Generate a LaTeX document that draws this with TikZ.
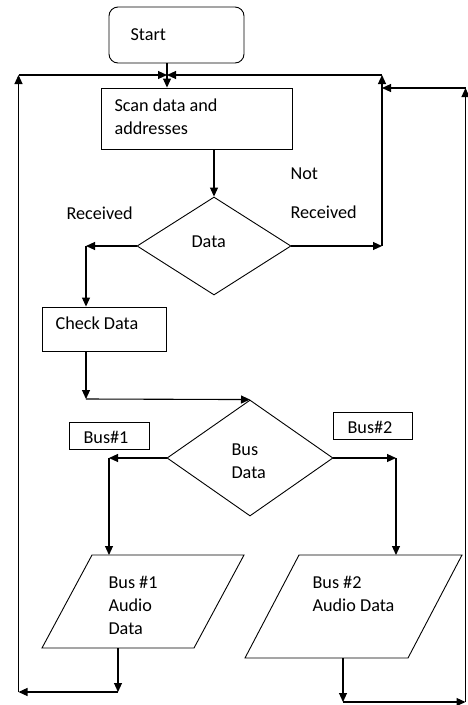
\documentclass[tikz,border=0pt]{standalone}
\usepackage{fontspec}
\setmainfont{Carlito}
\usetikzlibrary{shapes.geometric,arrows.meta}
\begin{document}
\begin{tikzpicture}[x=1pt,y=-1pt,
  line width=1.1pt,
  every node/.style={font=\fontsize{18.2}{23}\selectfont},
  arr/.style={-{Triangle[length=9pt,width=8pt]}},
  box/.style={draw,line width=0.9pt,inner sep=0pt},
  txt/.style={anchor=west,inner sep=0pt,align=left}]
\useasboundingbox (0,0) rectangle (468,705);
% shapes
\node[box,rounded corners=9pt,minimum width=135pt,minimum height=56pt] (start) at (176.5,35) {};
\node[txt] (starttxt) at (130,35) {Start};
\node[box,minimum width=191pt,minimum height=61pt] (scan) at (196.5,118.5) {};
\node[txt] (scantxt) at (114,116.5) {Scan data and\\addresses};
\node[box,diamond,minimum width=154pt,minimum height=98pt,aspect=1.571] (dd) at (214,246) {};
\node[txt] (ddtxt) at (191,242) {Data};
\node[box,minimum width=124pt,minimum height=44pt] (check) at (104,329) {};
\node[txt] (checktxt) at (55,323) {Check Data};
\node[box,diamond,minimum width=166pt,minimum height=116pt,aspect=1.431] (bd) at (250,458) {};
\node[txt] (bdtxt) at (231,461.5) {Bus\\Data};
\node[box,minimum width=80pt,minimum height=27pt] (b1) at (109,435.5) {};
\node[txt] (b1txt) at (83,437) {Bus\#1};
\node[box,minimum width=79pt,minimum height=27pt] (b2) at (372.5,425.5) {};
\node[txt] (b2txt) at (347,427) {Bus\#2};
% parallelograms
\draw[line width=0.9pt] (92,555) coordinate (p1tl) -- (244,555) -- (194,648) -- (42,648) coordinate (p1bl) -- cycle;
\node[txt] (p1txt) at (108,605) {Bus \#1\\Audio\\Data};
\draw[line width=0.9pt] (299,555) coordinate (p2tl) -- (462,555) -- (408,658) -- (245,658) coordinate (p2bl) -- cycle;
\node[txt] (p2txt) at (312,593.5) {Bus \#2\\Audio Data};
% labels
\node[txt] (notl) at (290,174) {Not};
\node[txt] (recr) at (290,212) {Received};
\node[txt] (recl) at (66,213) {Received};
% coordinates
\coordinate (j) at (167,75);
\coordinate (tl) at (18.5,75);
\coordinate (tr) at (382,75);
\coordinate (bl) at (18.5,692);
\coordinate (rr) at (465.5,88);
\coordinate (br) at (465.5,702);
\coordinate (cd) at (86,246);
\coordinate (ck) at (86,399);
\coordinate (bl1) at (109,458);
\coordinate (br2) at (396,458);
\coordinate (p1b) at (118,692);
\coordinate (p2b) at (343,702);
% connectors
\draw[arr] (j |- start.south) -- (j |- scan.north);
\draw[arr] (bl) -- (tl);
\draw[arr] (tl) -- (j);
\draw[arr] (dd.east) -- (dd.east -| tr);
\draw[arr] (dd.east -| tr) -- (tr);
\draw[arr] (tr) -- (j);
\draw[arr] (br) -- (rr);
\draw[arr] (rr) -- (rr -| tr);
\draw[arr] (scan.south -| dd.north) -- (dd.north);
\draw[arr] (dd.west) -- (cd);
\draw[arr] (cd) -- (cd |- check.north);
\draw[arr] (cd |- check.south) -- (ck);
\draw[arr] (ck) -- (bd.north);
\draw[arr] (bd.west) -- (bl1);
\draw[arr] (bl1) -- (bl1 |- p1tl);
\draw[arr] (bd.east) -- (br2);
\draw[arr] (br2) -- (br2 |- p2tl);
\draw[arr] (p1b |- p1bl) -- (p1b);
\draw[arr] (p1b) -- (bl);
\draw[arr] (p2b |- p2bl) -- (p2b);
\draw[arr] (p2b) -- (br);
\end{tikzpicture}
\end{document}
